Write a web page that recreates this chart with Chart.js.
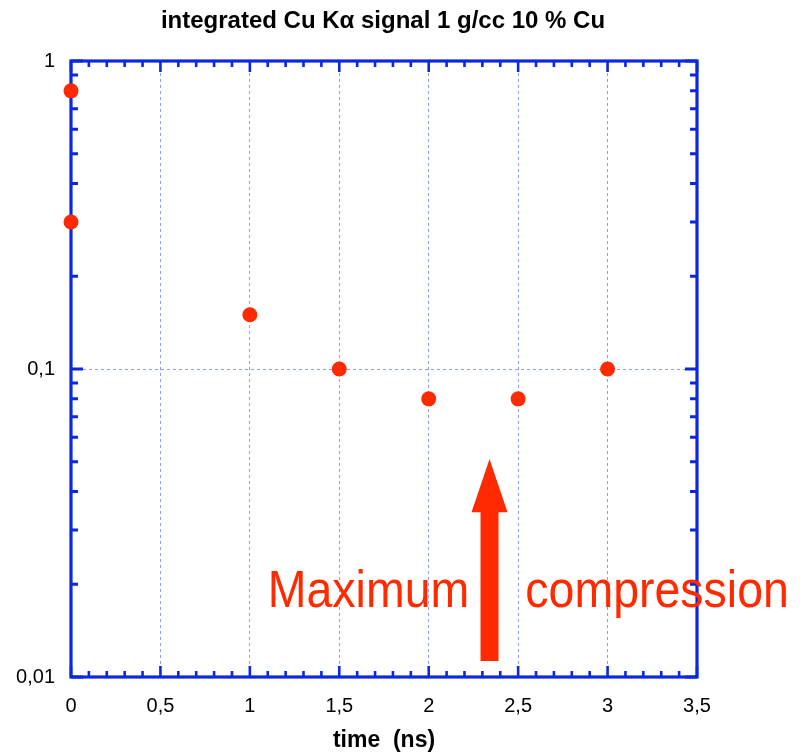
<!DOCTYPE html>
<html>
<head>
<meta charset="utf-8">
<script src="https://cdn.jsdelivr.net/npm/chart.js@4.4.1/dist/chart.umd.min.js"></script>
<style>
  html, body { margin: 0; padding: 0; background: #ffffff; }
  canvas { display: block; }
</style>
</head>
<body>
<canvas id="c" width="809" height="752"></canvas>
<script>
// ---- data ----
const timeNs = [0, 0, 1, 1.5, 2, 2.5, 3];
const signal = [0.8, 0.3, 0.15, 0.1, 0.08, 0.08, 0.1];

const xTickValues = [0, 0.5, 1, 1.5, 2, 2.5, 3, 3.5];
const xTickLabels = ['0', '0,5', '1', '1,5', '2', '2,5', '3', '3,5'];
const yTickValues = [0.01, 0.1, 1];
const yTickLabels = ['0,01', '0,1', '1'];

const titleText = 'integrated Cu K\u03B1 signal 1 g/cc 10 % Cu';
const xAxisTitle = 'time  (ns)';

// annotation (data coordinates)
const arrowX = 2.34;
const arrowBase = 0.01127;
const arrowHeadBase = 0.0343;
const arrowTip = 0.051;
const label1 = { text: 'Maximum', x: 1.10, y: 0.0169 };
const label2 = { text: 'compression', x: 2.54, y: 0.0169 };

// ---- styles ----
const FONT = '"Liberation Sans", Arial, Helvetica, sans-serif';
const AXIS_BLUE = '#0a28e0';
const GRID_BLUE = '#8c9cf2';
const RED = '#ff2a00';

const framePlugin = {
  id: 'frame',
  beforeDatasetsDraw(chart) {
    const { ctx, chartArea: a, scales: { x, y } } = chart;
    ctx.save();
    ctx.strokeStyle = AXIS_BLUE;
    ctx.lineCap = 'butt';
    // inward ticks on x (bottom & top)
    ctx.lineWidth = 2.6;
    for (let i = 0; i <= 35; i++) {
      const v = i / 10;
      const px = x.getPixelForValue(v);
      const len = (i % 5 === 0) ? 11 : 6;
      ctx.beginPath();
      ctx.moveTo(px, a.bottom); ctx.lineTo(px, a.bottom - len);
      ctx.moveTo(px, a.top); ctx.lineTo(px, a.top + len);
      ctx.stroke();
    }
    // inward ticks on y (left & right)
    for (let d = 0; d < yTickValues.length; d++) {
      const dec = yTickValues[d];
      for (let m = 1; m <= 9; m++) {
        const v = dec * m;
        if (v > 1.0000001) break;
        const py = y.getPixelForValue(v);
        const len = (m === 1) ? 12 : 7;
        ctx.lineWidth = 3;
        ctx.beginPath();
        ctx.moveTo(a.left, py); ctx.lineTo(a.left + len, py);
        ctx.moveTo(a.right, py); ctx.lineTo(a.right - len, py);
        ctx.stroke();
      }
    }
    // frame
    ctx.lineWidth = 3.2;
    ctx.strokeRect(a.left, a.top, a.right - a.left, a.bottom - a.top);
    ctx.restore();
  },
  afterDraw(chart) {
    const { ctx, scales: { x, y } } = chart;
    ctx.save();
    // title
    ctx.fillStyle = '#000000';
    ctx.font = 'bold 24px ' + FONT;
    ctx.textAlign = 'center';
    ctx.textBaseline = 'middle';
    ctx.fillText(titleText, 383, 21);
    // arrow
    ctx.fillStyle = RED;
    const cx = x.getPixelForValue(arrowX);
    const yb = y.getPixelForValue(arrowBase);
    const yh = y.getPixelForValue(arrowHeadBase);
    const yt = y.getPixelForValue(arrowTip);
    const sw = 9, hw = 18;
    ctx.beginPath();
    ctx.moveTo(cx - sw, yb);
    ctx.lineTo(cx - sw, yh);
    ctx.lineTo(cx - hw, yh);
    ctx.lineTo(cx, yt);
    ctx.lineTo(cx + hw, yh);
    ctx.lineTo(cx + sw, yh);
    ctx.lineTo(cx + sw, yb);
    ctx.closePath();
    ctx.fill();
    // labels
    ctx.font = '46.5px ' + FONT;
    ctx.textAlign = 'left';
    ctx.textBaseline = 'alphabetic';
    [label1, label2].forEach(l => {
      const px = x.getPixelForValue(l.x);
      const py = y.getPixelForValue(l.y);
      ctx.save();
      ctx.translate(px, py);
      ctx.scale(1, 1.1);
      ctx.fillText(l.text, 0, 0);
      ctx.restore();
    });
    ctx.restore();
  }
};

new Chart(document.getElementById('c'), {
  type: 'scatter',
  data: {
    datasets: [{
      data: timeNs.map((t, i) => ({ x: t, y: signal[i] })),
      backgroundColor: RED,
      borderColor: RED,
      borderWidth: 0,
      pointRadius: 7.5,
      pointHoverRadius: 7.5,
      clip: false
    }]
  },
  options: {
    responsive: false,
    animation: false,
    events: [],
    layout: { padding: { top: 61, left: 0, right: 112, bottom: 0 } },
    plugins: {
      legend: { display: false },
      tooltip: { enabled: false },
      title: { display: false }
    },
    scales: {
      x: {
        type: 'linear',
        min: 0, max: 3.5,
        afterBuildTicks: s => { s.ticks = xTickValues.map(v => ({ value: v })); },
        afterFit: s => { s.height = 75; },
        ticks: {
          autoSkip: false,
          maxRotation: 0,
          padding: 17,
          color: '#000000',
          font: { family: FONT, size: 20 },
          callback: v => { const i = xTickValues.findIndex(t => Math.abs(t - v) < 1e-9); return i >= 0 ? xTickLabels[i] : ''; }
        },
        grid: {
          drawTicks: false,
          lineWidth: 1,
          color: c => (c.tick && c.tick.value > 0 && c.tick.value < 3.5) ? GRID_BLUE : 'rgba(0,0,0,0)'
        },
        border: { display: false, dash: [3, 3] },
        title: {
          display: true,
          text: xAxisTitle,
          color: '#000000',
          font: { family: FONT, size: 23, weight: 'bold', lineHeight: 1 },
          padding: { top: 0, bottom: 0 }
        }
      },
      y: {
        type: 'logarithmic',
        min: 0.01, max: 1,
        afterBuildTicks: s => { s.ticks = yTickValues.map(v => ({ value: v })); },
        afterFit: s => { s.width = 71; },
        ticks: {
          autoSkip: false,
          padding: 16,
          color: '#000000',
          font: { family: FONT, size: 20 },
          callback: v => { const i = yTickValues.findIndex(t => Math.abs(t - v) < 1e-12); return i >= 0 ? yTickLabels[i] : ''; }
        },
        grid: {
          drawTicks: false,
          lineWidth: 1,
          color: c => (c.tick && Math.abs(c.tick.value - 0.1) < 1e-9) ? GRID_BLUE : 'rgba(0,0,0,0)'
        },
        border: { display: false, dash: [3, 3] }
      }
    }
  },
  plugins: [framePlugin]
});
</script>
</body>
</html>
